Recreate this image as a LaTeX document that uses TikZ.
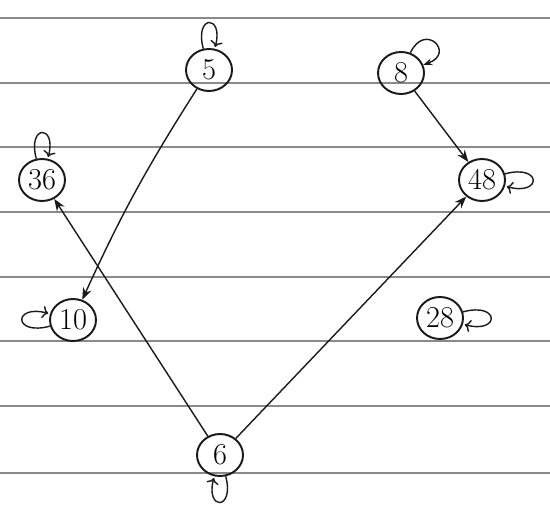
\documentclass[tikz,border=0pt]{standalone}
\usetikzlibrary{arrows.meta,shapes.geometric}
\definecolor{Ink}{HTML}{1A1A1A}
\definecolor{Rule}{HTML}{8A8A8A}
\tikzset{
  num/.style={
    ellipse, draw=Ink, line width=1.1pt, minimum width=0.92cm, minimum height=0.84cm,
    inner sep=1pt, font=\LARGE
  },
  flow/.style={-{Stealth[length=2.4mm]}, thick, draw=Ink},
  selfloop/.style={-{Stealth[length=1.8mm]}, thick, draw=Ink, looseness=7, min distance=6mm},
  ruling/.style={draw=Rule, line width=1.2pt}
}
\begin{document}
\begin{tikzpicture}[x=0.02cm,y=0.02cm]
    \useasboundingbox (0,0) rectangle (550,504);
    % ruled paper
    \foreach \h in {486,421,357,292,227,163,98,31}
      \draw[ruling] (0,\h) -- (550,\h);
    \node[num] (n5) at (209,434) {5};
    \node[num] (n8) at (401,431) {8};
    \node[num] (n36) at (42,324) {36};
    \node[num] (n48) at (482,324) {48};
    \node[num] (n10) at (73,184) {10};
    \node[num] (n28) at (440,186) {28};
    \node[num] (n6) at (220,49) {6};
    \draw[flow] (n5) to[bend right=4] (n10);
    \draw[flow] (n8) -- (n48);
    \draw[flow] (n6) -- (n36);
    \draw[flow] (n6) -- (n48);
    % self loops
    \path (n5) edge[selfloop, loop above] (n5);
    \path (n8) edge[selfloop, out=65, in=20, loop, looseness=5] (n8);
    \path (n36) edge[selfloop, loop above] (n36);
    \path (n48) edge[selfloop, loop right] (n48);
    \path (n10) edge[selfloop, loop left] (n10);
    \path (n28) edge[selfloop, loop right] (n28);
    \path (n6) edge[selfloop, loop below] (n6);
\end{tikzpicture}
\end{document}
